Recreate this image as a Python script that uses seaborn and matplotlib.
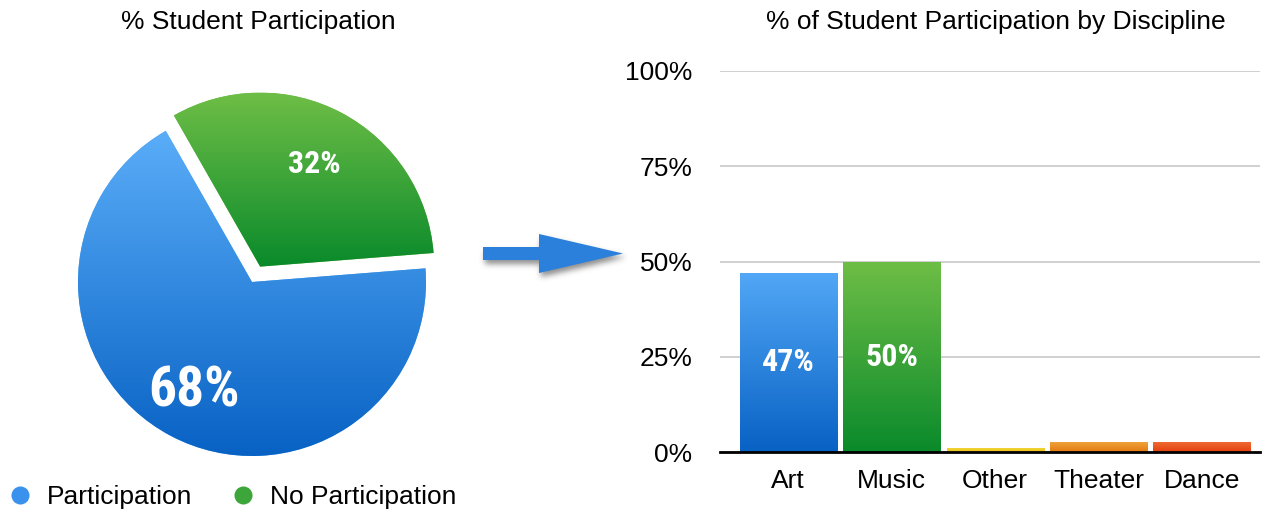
import numpy as np
import pandas as pd
import matplotlib
matplotlib.use("Agg")
import matplotlib.pyplot as plt
from matplotlib import font_manager
from matplotlib.colors import LinearSegmentedColormap
from matplotlib.lines import Line2D
from matplotlib.patches import Polygon
from matplotlib.path import Path
import seaborn as sns

# ---------------- data ----------------
pie_labels = ["No Participation", "Participation"]
pie_values = [32, 68]
pie_top_colors = ["#6EBE46", "#5AADF8"]
pie_bottom_colors = ["#0A8A2B", "#0862C4"]

categories = ["Art", "Music", "Other", "Theater", "Dance"]
values = [47, 50, 1, 2.5, 2.5]
bar_top_colors = ["#52A7F6", "#6EBE46", "#F3D63A", "#F0A23A", "#F06A32"]
bar_bottom_colors = ["#0862C4", "#0A8A2B", "#E8BC12", "#E27A12", "#E2400E"]
yticks = [0, 25, 50, 75, 100]
ytick_labels = ["0%", "25%", "50%", "75%", "100%"]

# ---------------- style ----------------
sns.set_theme(style="white")
names = {f.name for f in font_manager.fontManager.ttflist}
base_font = "Liberation Sans" if "Liberation Sans" in names else "DejaVu Sans"
bold_font = base_font
for cand in ["Roboto Condensed", "PT Sans Narrow", "Open Sans Condensed",
             "IBM Plex Sans Condensed", "Liberation Sans Narrow"]:
    if cand in names:
        bold_font = cand
        break
plt.rcParams["font.family"] = [base_font, "DejaVu Sans"]
plt.rcParams["text.color"] = "black"
plt.rcParams["xtick.color"] = "black"
plt.rcParams["ytick.color"] = "black"
FS = 19

W, H = 1265, 513
fig = plt.figure(figsize=(W / 100, H / 100), dpi=100)


def fx(px):
    return px / W


def fy(py):
    return 1 - py / H


def gradient(ax, patch, x0, x1, y0, y1, top, bottom):
    cmap = LinearSegmentedColormap.from_list("g", [bottom, top])
    grad = np.linspace(0, 1, 256).reshape(-1, 1)
    im = ax.imshow(grad, cmap=cmap, origin="lower", extent=(x0, x1, y0, y1),
                   aspect="auto", interpolation="bicubic", zorder=patch.get_zorder() + 0.1)
    im.set_clip_path(patch)
    return im


# ---------------- pie ----------------
R = 174.0
cx, cy = 252, 282
axl, axr, axt, axb = 20, 480, 60, 470
ax1 = fig.add_axes([fx(axl), fy(axb), fx(axr - axl), (axb - axt) / H])
wedges, texts, autotexts = ax1.pie(
    pie_values, startangle=4.5, counterclock=True, explode=[0.1, 0],
    colors=pie_top_colors, autopct="%d%%", pctdistance=0.67,
    textprops=dict(color="white", fontweight="bold", family=[bold_font, "DejaVu Sans"]),
    wedgeprops=dict(linewidth=0),
)
for t in texts:
    t.set_text("")
for w, top, bot in zip(wedges, pie_top_colors, pie_bottom_colors):
    ext = w.get_path().get_extents()
    gradient(ax1, w, ext.x0, ext.x1, ext.y0, ext.y1, top, bot)
autotexts[0].set_fontsize(23)
autotexts[1].set_fontsize(40)
# push the large label slightly further out along its wedge bisector
px_, py_ = autotexts[1].get_position()
autotexts[1].set_position((px_ * 0.71 / 0.67, py_ * 0.71 / 0.67))
for t in autotexts:
    t.set_zorder(10)
ax1.set_aspect("auto")
ax1.set_xlim(-(cx - axl) / R, (axr - cx) / R)
ax1.set_ylim(-(axb - cy) / R, (cy - axt) / R)
ax1.axis("off")

fig.text(fx(258.5), fy(22), "% Student Participation", ha="center", va="center",
         fontsize=FS, color="black")

handles = [Line2D([], [], marker="o", linestyle="", markersize=13,
                  markerfacecolor=c, markeredgewidth=0)
           for c in ["#3A92EC", "#3DA63A"]]
fig.legend(handles, ["Participation", "No Participation"], loc="center left",
           bbox_to_anchor=(fx(7), fy(497)), ncol=2, frameon=False, fontsize=FS,
           borderpad=0, borderaxespad=0, handlelength=1.0, handletextpad=0.5,
           columnspacing=1.45)

# ---------------- bars ----------------
bl, br, b0, b100 = 720, 1260, 452, 71
ax2 = fig.add_axes([fx(bl), fy(b0), fx(br - bl), (b0 - b100) / H])
df = pd.DataFrame({"category": categories, "value": values})
sns.barplot(data=df, x="category", y="value", hue="category", palette=bar_top_colors,
            width=0.94, legend=False, ax=ax2, linewidth=0, saturation=1)
for p, top, bot in zip(ax2.patches, bar_top_colors, bar_bottom_colors):
    x0 = p.get_x()
    gradient(ax2, p, x0, x0 + p.get_width(), 0, p.get_height(), top, bot)
    v = p.get_height()
    if v > 10:
        ax2.text(x0 + p.get_width() / 2, v / 2, f"{v:.0f}%", ha="center", va="center",
                 color="white", fontsize=23, fontweight="bold",
                 family=[bold_font, "DejaVu Sans"], zorder=10)
ax2.set_xlim(-0.66, 4.56)
ax2.set_ylim(0, 100)
ax2.set_yticks(yticks)
ax2.set_yticklabels(ytick_labels)
ax2.yaxis.grid(True, color="#C8C8C8", linewidth=1.2)
ax2.set_axisbelow(True)
ax2.tick_params(axis="both", length=0, labelsize=FS, colors="black")
ax2.tick_params(axis="y", pad=20)
ax2.tick_params(axis="x", pad=12)
ax2.set_xlabel("")
ax2.set_ylabel("")
for s in ["top", "right", "left"]:
    ax2.spines[s].set_visible(False)
ax2.spines["bottom"].set_color("black")
ax2.spines["bottom"].set_linewidth(2)
ax2.spines["bottom"].set_zorder(20)

fig.text(fx(995.5), fy(22), "% of Student Participation by Discipline",
         ha="center", va="center", fontsize=FS, color="black")

# ---------------- arrow (decoration) with soft shadow ----------------
ov = fig.add_axes([0, 0, 1, 1], zorder=-1)
ov.set_xlim(0, W)
ov.set_ylim(H, 0)
ov.axis("off")
arrow_pts = [(483, 247), (539, 247), (539, 234), (623, 253.5), (539, 273),
             (539, 260), (483, 260)]
sx0, sx1, sy0, sy1 = 465, 645, 215, 295
gx, gy = np.meshgrid(np.arange(sx0, sx1) + 0.5, np.arange(sy0, sy1) + 0.5)
shadow_path = Path([(x + 2, y + 4) for x, y in arrow_pts] + [(arrow_pts[0][0] + 2, arrow_pts[0][1] + 4)],
                   closed=True)
mask = shadow_path.contains_points(np.c_[gx.ravel(), gy.ravel()]).reshape(gx.shape).astype(float)
k = np.exp(-0.5 * (np.arange(-9, 10) / 3.0) ** 2)
k /= k.sum()
blur = np.apply_along_axis(lambda r: np.convolve(r, k, mode="same"), 1, mask)
blur = np.apply_along_axis(lambda c: np.convolve(c, k, mode="same"), 0, blur)
rgba = np.zeros(blur.shape + (4,))
rgba[..., 3] = 0.45 * blur
ov.imshow(rgba, extent=(sx0, sx1, sy1, sy0), origin="upper", interpolation="bilinear",
          aspect="auto", zorder=1)
ov.add_patch(Polygon(arrow_pts, closed=True, facecolor="#2A80DA", edgecolor="none", zorder=2))
ov.set_xlim(0, W)
ov.set_ylim(H, 0)

fig.savefig("out.png", dpi=100)
